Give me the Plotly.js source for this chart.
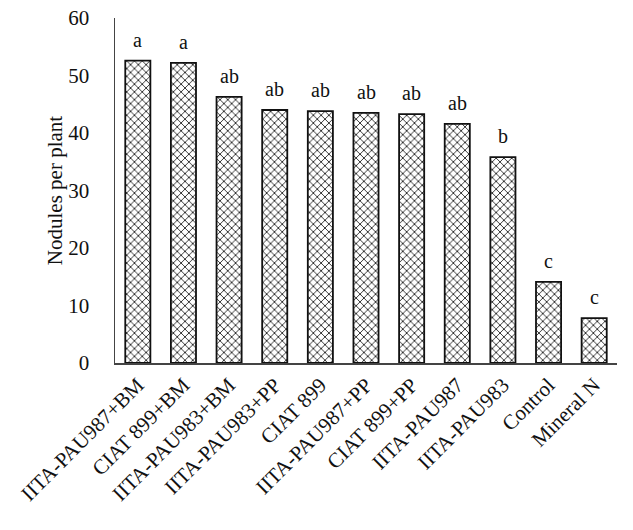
<!DOCTYPE html>
<html>
<head>
<script src="https://cdn.plot.ly/plotly-3.0.1.min.js"></script>
<style>html,body{margin:0;padding:0;background:#fff;}</style>
</head>
<body>
<div id="chart" style="width:633px;height:530px;"></div>
<script>
const categories = ["IITA-PAU987+BM","CIAT 899+BM","IITA-PAU983+BM","IITA-PAU983+PP","CIAT 899","IITA-PAU987+PP","CIAT 899+PP","IITA-PAU987","IITA-PAU983","Control","Mineral N"];
const nodules = [52.6, 52.2, 46.3, 44.0, 43.8, 43.5, 43.3, 41.6, 35.8, 14.1, 7.8];
const groups = ["a","a","ab","ab","ab","ab","ab","ab","b","c","c"];
const yTicks = [0,10,20,30,40,50,60];

const font = "Liberation Serif, Times New Roman, serif";
const letterAnnotations = categories.map((c, i) => ({
  x: c, y: nodules[i], text: groups[i],
  xref: "x", yref: "y", showarrow: false,
  yanchor: "bottom", yshift: 8,
  font: {family: font, size: 20, color: "#111"}
}));

Plotly.newPlot("chart", [{
  type: "bar",
  x: categories,
  y: nodules,
  marker: {
    color: "#ffffff",
    line: {color: "#111", width: 1.8},
    pattern: {shape: "x", fgcolor: "#222", bgcolor: "#ffffff", size: 5.5, solidity: 0.3}
  },
  hoverinfo: "none"
}], {
  width: 633, height: 530,
  margin: {l: 115, r: 16, t: 18, b: 167},
  paper_bgcolor: "#fff", plot_bgcolor: "#fff",
  bargap: 0.45,
  showlegend: false,
  font: {family: font, color: "#111"},
  annotations: letterAnnotations,
  xaxis: {
    tickangle: -45,
    tickfont: {family: font, size: 21, color: "#111"},
    showline: true, linecolor: "#444", linewidth: 1.5,
    ticks: "", showgrid: false, zeroline: false
  },
  yaxis: {
    range: [0, 60],
    tickvals: yTicks,
    tickfont: {family: font, size: 21, color: "#111"},
    showline: true, linecolor: "#444", linewidth: 1.5,
    ticks: "", showgrid: false, zeroline: false,
    ticklen: 0, ticklabelstandoff: 20,
    title: {text: "Nodules per plant", font: {family: font, size: 21, color: "#111"}, standoff: 0}
  }
}, {displayModeBar: false, staticPlot: true});
</script>
</body>
</html>
